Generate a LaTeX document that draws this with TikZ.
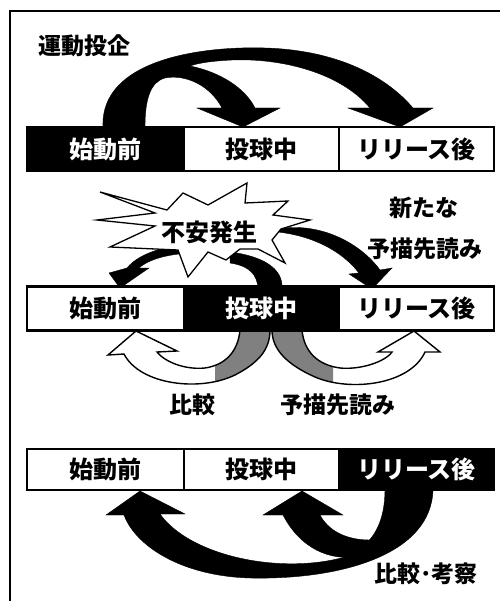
\documentclass[tikz,border=0pt]{standalone}
\usepackage{fontspec}
\newfontfamily\jp{Noto Sans CJK JP}
\begin{document}
\begin{tikzpicture}[x=1pt,y=-1pt,
  seg/.style={draw=black, line width=2.2pt, minimum height=44pt, inner sep=0pt,
    font=\jp\bfseries\fontsize{24}{24}\selectfont},
  segw/.style={seg, fill=white, text=black},
  segb/.style={seg, fill=black, text=white},
  lbl/.style={font=\jp\bfseries\fontsize{23}{23}\selectfont, inner sep=0pt},
  blk/.style={fill=black, draw=black, line width=0.4pt, line join=miter},
  hollow/.style={draw=black, line width=1.4pt, line join=miter},
  stip/.style={fill=black!50},
  starshape/.style={fill=white, draw=black, line width=1.3pt, line join=miter},
]
\useasboundingbox (0,0) rectangle (500,601);
% frame
\draw[line width=2pt] (10,601) -- (10,11) -- (500,11);

% ---------- row 1 arrows ----------
\path[blk] (103,127) .. controls (100,60) and (200,46) .. (265,48)
  .. controls (335,50) and (385,75) .. (413,108) -- (433,108) -- (400,127)
  -- (348,108) -- (370,108) .. controls (340,72) and (280,58) .. (232,60)
  .. controls (212,61) and (198,63) .. (190,66)
  .. controls (220,72) and (245,88) .. (255,108) -- (280,108) -- (243,127)
  -- (197,108) -- (222,108) .. controls (210,85) and (185,74) .. (165,78)
  .. controls (150,82) and (145,100) .. (145,127) -- cycle;

% ---------- row 2: arrows out of the burst ----------
\path[blk] (205,243) .. controls (170,244) and (140,252) .. (127,268)
  -- (109,273) -- (120,288) -- (149,268) -- (139,268)
  .. controls (150,258) and (175,252) .. (205,253) -- cycle;
\path[blk] (278,229) .. controls (316,222) and (358,240) .. (380,270)
  -- (392,268) -- (372,289) -- (349,274) -- (359,273)
  .. controls (341,250) and (312,236) .. (278,232) -- cycle;
\path[blk] (258,288) .. controls (257,275) and (250,266) .. (230,263)
  -- (230,252) .. controls (262,256) and (283,268) .. (282,288) -- cycle;

% burst
\path[starshape] (100,192) -- (167,210) -- (183,193) -- (208,205) -- (247,183)
  -- (245,203) -- (288,201) -- (273,215) -- (310,220) -- (281,229)
  -- (272,240) -- (285,263) -- (258,249) -- (240,249) -- (226,260)
  -- (208,252) -- (188,277) -- (178,250) -- (110,247) -- (155,226)
  -- (97,220) -- (155,213) -- cycle;
\node[lbl, font=\jp\bfseries\fontsize{24}{24}\selectfont] (fuan) at (209,232) {不安発生};

% ---------- row 2: hollow arrows below ----------
\begin{scope}
  \clip (215,320) rectangle (275,400);
  \path[stip] (157,352) -- (177,351) -- (136,331) -- (108,355) -- (124,354)
    .. controls (140,385) and (200,392) .. (235,375)
    .. controls (258,363) and (270,350) .. (270,330) -- (240,330)
    .. controls (238,352) and (225,365) .. (205,368)
    .. controls (185,370) and (165,362) .. (157,352) -- cycle;
\end{scope}
\path[hollow] (157,352) -- (177,351) -- (136,331) -- (108,355) -- (124,354)
    .. controls (140,385) and (200,392) .. (235,375)
    .. controls (258,363) and (270,350) .. (270,330) -- (240,330)
    .. controls (238,352) and (225,365) .. (205,368)
    .. controls (185,370) and (165,362) .. (157,352) -- cycle;
\begin{scope}
  \clip (270,320) rectangle (333,400);
  \path[stip] (392,352) -- (378,352) -- (414,331) -- (440,352) -- (425,352)
    .. controls (410,385) and (350,392) .. (315,377)
    .. controls (288,365) and (272,350) .. (272,330) -- (302,330)
    .. controls (304,352) and (318,365) .. (340,368)
    .. controls (360,370) and (385,362) .. (392,352) -- cycle;
\end{scope}
\path[hollow] (392,352) -- (378,352) -- (414,331) -- (440,352) -- (425,352)
    .. controls (410,385) and (350,392) .. (315,377)
    .. controls (288,365) and (272,350) .. (272,330) -- (302,330)
    .. controls (304,352) and (318,365) .. (340,368)
    .. controls (360,370) and (385,362) .. (392,352) -- cycle;

% ---------- row 3 arrows ----------
\path[blk] (433,489) .. controls (432,555) and (340,580) .. (250,578)
  .. controls (180,576) and (135,545) .. (124,515) -- (106,515) -- (140,491)
  -- (185,514) -- (160,514) .. controls (190,556) and (280,575) .. (345,557)
  .. controls (375,545) and (385,520) .. (385,489) -- cycle;
\path[blk] (283,515) .. controls (300,548) and (330,562) .. (360,556)
  -- (370,540) .. controls (345,540) and (328,530) .. (320,515)
  -- (343,515) -- (302,491) -- (263,515) -- cycle;

% ---------- bars ----------
\node[segb, minimum width=157pt] (a1) at (105.5,149) {始動前};
\node[segw, minimum width=155pt] (b1) at (261.5,149) {投球中};
\node[segw, minimum width=155pt] (c1) at (416.5,149) {リリース後};

\node[segw, minimum width=157pt] (a2) at (105.5,308.5) {始動前};
\node[segb, minimum width=155pt] (b2) at (261.5,308.5) {投球中};
\node[segw, minimum width=155pt] (c2) at (416.5,308.5) {リリース後};

\node[segw, minimum width=157pt, minimum height=41pt] (a3) at (105.5,469.5) {始動前};
\node[segw, minimum width=155pt, minimum height=41pt] (b3) at (261.5,469.5) {投球中};
\node[segb, minimum width=155pt, minimum height=41pt] (c3) at (416.5,469.5) {リリース後};

% ---------- labels ----------
\node[lbl] (t1) at (84,46) {運動投企};
\node[lbl] (t2) at (424,208) {新たな};
\node[lbl] (t3) at (425,249) {予描先読み};
\node[lbl] (t4) at (192,405) {比較};
\node[lbl] (t5) at (338,405) {予描先読み};
\node[lbl] (t6) at (426,574) {比較･考察};
\end{tikzpicture}
\end{document}
